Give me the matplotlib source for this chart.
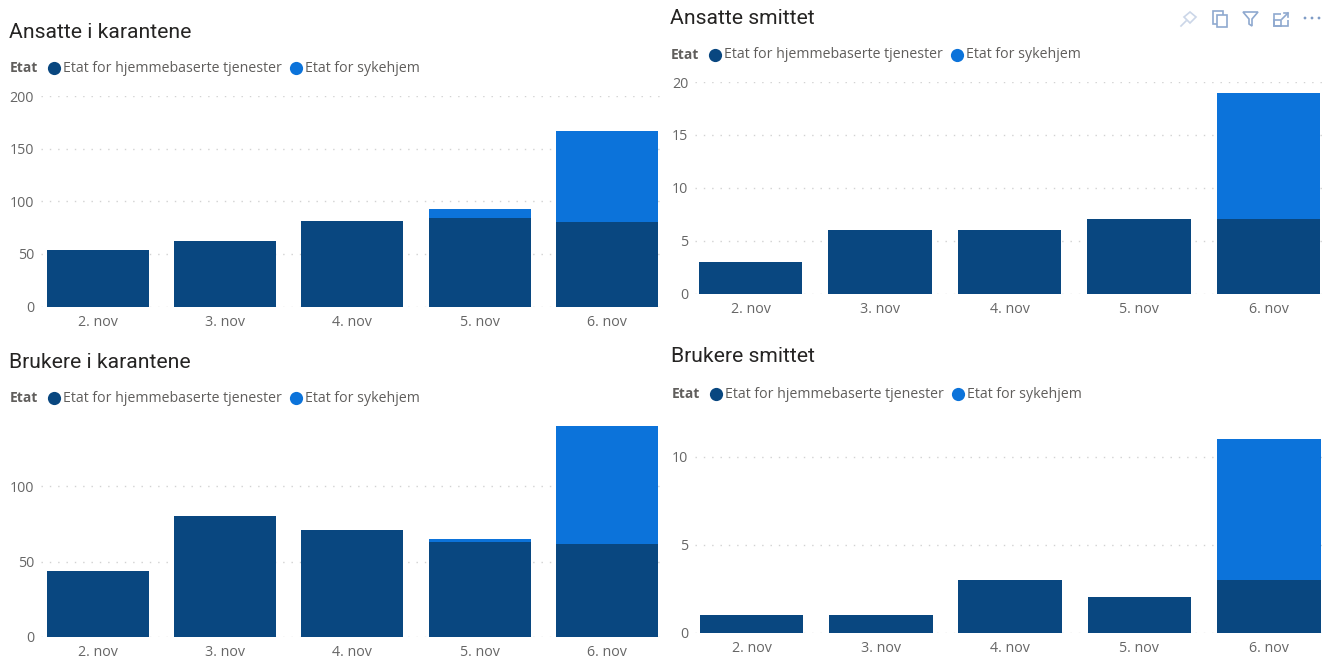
import matplotlib
matplotlib.use("Agg")
import matplotlib.pyplot as plt
from matplotlib.patches import Polygon, Rectangle, Circle
from matplotlib.lines import Line2D

W, H = 1326, 661
days = ["2. nov", "3. nov", "4. nov", "5. nov", "6. nov"]
series_names = ["Etat for hjemmebaserte tjenester", "Etat for sykehjem"]
legend_title = "Etat"
DARK = "#094780"
LIGHT = "#0C73DA"

ansatte_karantene_hjem = [54, 62, 81, 84, 80]
ansatte_karantene_syk = [0, 0, 0, 9, 87]
ansatte_smittet_hjem = [3, 6, 6, 7, 7]
ansatte_smittet_syk = [0, 0, 0, 0, 12]
brukere_karantene_hjem = [44, 80, 71, 63, 62]
brukere_karantene_syk = [0, 0, 0, 2, 78]
brukere_smittet_hjem = [1, 1, 3, 2, 3]
brukere_smittet_syk = [0, 0, 0, 0, 8]

fig = plt.figure(figsize=(W / 100, H / 100), dpi=100, facecolor="white")
plt.rcParams["font.family"] = ["Open Sans", "DejaVu Sans"]


def px(x, y):
    return x / W, 1 - y / H


def panel(title, title_xy, legend_xy, hjem, syk, ticks, ylim,
          y0_px, ytop_px, x_left, x_right, c0, step):
    ax = fig.add_axes([x_left / W, 1 - y0_px / H, (x_right - x_left) / W, (y0_px - ytop_px) / H])
    ax.patch.set_alpha(0)
    pos = list(range(len(days)))
    ax.bar(pos, hjem, width=0.802, color=DARK, zorder=3)
    ax.bar(pos, syk, bottom=hjem, width=0.802, color=LIGHT, zorder=3)
    ax.set_ylim(0, ylim)
    ax.set_xlim((x_left - c0) / step, (x_right - c0) / step)
    ax.set_xticks(pos)
    ax.set_xticklabels(days)
    ax.set_yticks(ticks)
    ax.tick_params(length=0, labelsize=10.3, labelcolor="#666666", pad=6)
    ax.tick_params(axis="y", pad=5)
    ax.grid(axis="y", color="#D2D2D2", linestyle=(0, (1, 5)), linewidth=1, zorder=0)
    for s in ax.spines.values():
        s.set_visible(False)
    tx, ty = px(*title_xy)
    fig.text(tx, ty, title, fontsize=15.2, color="#252423", va="center", ha="left",
             family=["Roboto", "DejaVu Sans"], fontweight="regular")
    lx, ly = legend_xy
    x, y = px(lx, ly)
    fig.text(x, y, legend_title, fontsize=10, color="#605E5C", fontweight="bold", va="center")
    for offs, col, name in ((37, DARK, series_names[0]), (279, LIGHT, series_names[1])):
        fig.add_artist(Line2D([(lx + offs + 7) / W], [1 - ly / H], marker="o", markersize=9.5,
                              color=col, linestyle="none", markeredgewidth=0,
                              transform=fig.transFigure))
        x, y = px(lx + offs + 16, ly)
        fig.text(x, y, name, fontsize=10.15, color="#605E5C", va="center")
    return ax


panel("Ansatte i karantene", (9, 32), (10, 68), ansatte_karantene_hjem, ansatte_karantene_syk,
      [0, 50, 100, 150, 200], 200, 306.5, 96, 41, 660, 98, 127.2)
panel("Ansatte smittet", (670, 18), (671, 55), ansatte_smittet_hjem, ansatte_smittet_syk,
      [0, 5, 10, 15, 20], 20, 293.5, 82, 695, 1322, 750.5, 129.5)
panel("Brukere i karantene", (9, 362), (10, 398), brukere_karantene_hjem, brukere_karantene_syk,
      [0, 50, 100], 140 * 1.0, 637, 426, 41, 660, 98, 127.2)
panel("Brukere smittet", (671, 357), (672, 394), brukere_smittet_hjem, brukere_smittet_syk,
      [0, 5, 10], 11, 632.5, 439, 695, 1322, 751.5, 129.3)

# visual header icons (pin, copy, filter, focus, more)
ov = fig.add_axes([0, 0, 1, 1], zorder=10)
ov.set_xlim(0, W)
ov.set_ylim(H, 0)
ov.axis("off")
ic = "#8FA9CF"
ov.add_patch(Polygon([(1190, 12), (1196, 17), (1190, 23), (1184, 17)], fill=False, ec="#CBD6E8", lw=1.2))
ov.add_line(Line2D([1181, 1186], [26, 21], color="#CBD6E8", lw=1.2))
ov.add_patch(Rectangle((1213, 11), 10, 13, fill=False, ec=ic, lw=1.2))
ov.add_patch(Rectangle((1217, 15), 10, 12, fc="white", ec=ic, lw=1.2))
ov.add_patch(Polygon([(1243, 12), (1258, 12), (1252, 19), (1252, 26), (1249, 24), (1249, 19)],
                     fill=False, ec=ic, lw=1.2))
ov.add_patch(Rectangle((1274, 14), 14, 12, fill=False, ec=ic, lw=1.2))
ov.add_patch(Rectangle((1281, 12), 8, 8, fc="white", ec="white", lw=0))
ov.add_patch(Rectangle((1274, 20), 7, 6, fill=False, ec=ic, lw=1.2))
ov.add_line(Line2D([1282, 1288], [19, 13], color=ic, lw=1.2))
ov.add_line(Line2D([1284, 1288, 1288], [13, 13, 17], color=ic, lw=1.2))
for cx in (1305, 1312, 1319):
    ov.add_patch(Circle((cx, 18), 1.4, color="#7F9CC6", lw=0))

fig.savefig("out.png", dpi=100, facecolor="white")
